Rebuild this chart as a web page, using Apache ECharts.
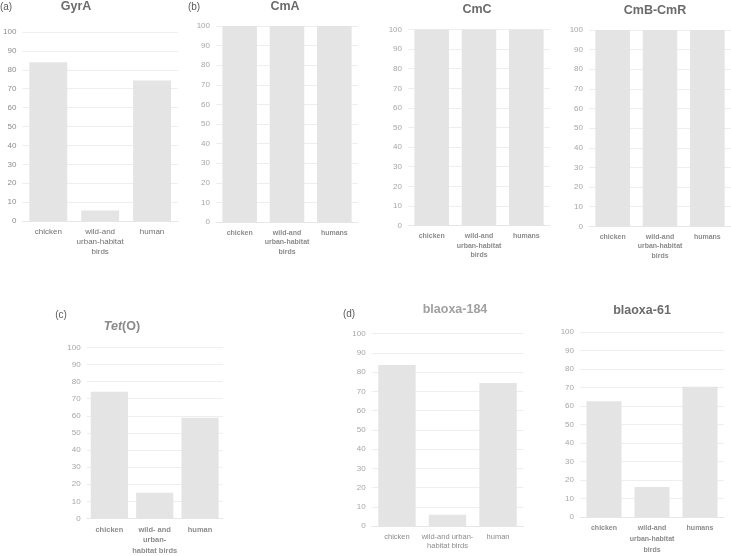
<!DOCTYPE html>
<html>
<head>
<meta charset="utf-8">
<script src="https://cdn.jsdelivr.net/npm/echarts@6/dist/echarts.min.js"></script>
<style>html,body{margin:0;padding:0;background:#fff}#c{width:731px;height:556px}</style>
</head>
<body>
<div id="c"></div>
<script>
// ---- data ----
const yTicks = [0, 10, 20, 30, 40, 50, 60, 70, 80, 90, 100];
const catsGyrA = ['chicken', 'wild-and\nurban-habitat\nbirds', 'human'];
const catsCm = ['chicken', 'wild-and\nurban-habitat\nbirds', 'humans'];
const catsTet = ['chicken', 'wild- and\nurban-\nhabitat birds', 'human'];
const cats184 = ['chicken', 'wild-and urban-\nhabitat birds', 'human'];
const cats61 = ['chicken', 'wild-and\nurban-habitat\nbirds', 'humans'];
const valGyrA = [84, 5.5, 74.4];
const valCmA = [100, 100, 100];
const valCmC = [100, 100, 100];
const valCmBCmR = [100, 100, 100];
const valTetO = [74.1, 15.1, 58.8];
const val184 = [83.7, 5.9, 74.4];
const val61 = [62.6, 16.2, 70.4];

// ---- layout ----
const FONT = '"Liberation Sans", Arial, sans-serif';
const panels = [
  {cats: catsGyrA, vals: valGyrA, left: 21, top: 32, width: 157, height: 189, gap: '27%', labStyle: {color: '#6f6f6f', fontSize: 8, fontWeight: 'normal', lineHeight: 10}, tickColor: '#8c8c8c'},
  {cats: catsCm, vals: valCmA, left: 216, top: 26, width: 142, height: 196, gap: '27%', labStyle: {color: '#8c8c8c', fontSize: 7, fontWeight: 'bold', lineHeight: 9.5}, tickColor: '#a6a6a6'},
  {cats: catsCm, vals: valCmC, left: 408, top: 29.5, width: 142, height: 196, gap: '27%', labStyle: {color: '#8c8c8c', fontSize: 7, fontWeight: 'bold', lineHeight: 9.5}, tickColor: '#a6a6a6'},
  {cats: catsCm, vals: valCmBCmR, left: 589, top: 30, width: 142, height: 196.3, gap: '27%', labStyle: {color: '#8c8c8c', fontSize: 7, fontWeight: 'bold', lineHeight: 9.5}, tickColor: '#a6a6a6'},
  {cats: catsTet, vals: valTetO, left: 86.7, top: 347.3, width: 136, height: 172.4, gap: '18%', labStyle: {color: '#8c8c8c', fontSize: 7.5, fontWeight: 'bold', lineHeight: 10.5}, tickColor: '#a6a6a6'},
  {cats: cats184, vals: val184, left: 371.7, top: 333.7, width: 151.6, height: 192.3, gap: '26%', labStyle: {color: '#8c8c8c', fontSize: 7.5, fontWeight: 'normal', lineHeight: 9.5}, tickColor: '#a6a6a6'},
  {cats: cats61, vals: val61, left: 580, top: 332, width: 144, height: 196, gap: '27%', labStyle: {color: '#8c8c8c', fontSize: 7, fontWeight: 'bold', lineHeight: 11}, tickColor: '#a6a6a6'}
];

const grid = [], xAxis = [], yAxis = [], series = [];
panels.forEach((p, i) => {
  grid.push({left: p.left, top: p.top, width: p.width, height: p.height, containLabel: false});
  xAxis.push({
    type: 'category', gridIndex: i, data: p.cats,
    axisLine: {show: true, lineStyle: {color: '#e6e6e6', width: 1}},
    axisTick: {show: false},
    axisLabel: Object.assign({interval: 0, margin: 6, fontFamily: FONT, verticalAlign: 'top'}, p.labStyle)
  });
  yAxis.push({
    type: 'value', gridIndex: i, min: yTicks[0], max: yTicks[yTicks.length - 1], interval: yTicks[1] - yTicks[0],
    axisLine: {show: false}, axisTick: {show: false},
    splitLine: {show: true, lineStyle: {color: '#eeeeee', width: 1}},
    axisLabel: {color: p.tickColor, fontSize: 8, fontFamily: FONT, margin: 6}
  });
  series.push({
    type: 'bar', xAxisIndex: i, yAxisIndex: i, data: p.vals,
    barCategoryGap: p.gap, itemStyle: {color: '#e4e4e4'}, silent: true
  });
});

const txt = (x, y, text, style) => ({
  type: 'text', left: null, x: x, y: y, silent: true,
  style: Object.assign({text: text, fontFamily: FONT, textAlign: 'center', textVerticalAlign: 'middle'}, style)
});

const graphic = [
  txt(6, 7, '(a)', {fill: '#595959', fontSize: 10}),
  txt(194, 7, '(b)', {fill: '#595959', fontSize: 10}),
  txt(61, 315, '(c)', {fill: '#595959', fontSize: 10}),
  txt(349, 314, '(d)', {fill: '#595959', fontSize: 10}),
  txt(76, 7, 'GyrA', {fill: '#6b6b6b', fontSize: 12.5, fontWeight: 'bold'}),
  txt(285, 7, 'CmA', {fill: '#6b6b6b', fontSize: 12.5, fontWeight: 'bold'}),
  txt(477, 10, 'CmC', {fill: '#6b6b6b', fontSize: 12.5, fontWeight: 'bold'}),
  txt(655, 11, 'CmB-CmR', {fill: '#6b6b6b', fontSize: 12.5, fontWeight: 'bold'}),
  {
    type: 'text', x: 122, y: 327, silent: true,
    style: {
      text: '{i|Tet}{n|(O)}', textAlign: 'center', textVerticalAlign: 'middle',
      rich: {
        i: {fontFamily: FONT, fontSize: 12.5, fontWeight: 'bold', fontStyle: 'italic', fill: '#8a8a8a', color: '#8a8a8a'},
        n: {fontFamily: FONT, fontSize: 12.5, fontWeight: 'bold', fill: '#8a8a8a', color: '#8a8a8a'}
      }
    }
  },
  txt(455, 310, 'blaoxa-184', {fill: '#a0a0a0', fontSize: 12.5, fontWeight: 'bold'}),
  txt(642, 311, 'blaoxa-61', {fill: '#6b6b6b', fontSize: 12.5, fontWeight: 'bold'})
];

const chart = echarts.init(document.getElementById('c'), null, {renderer: 'canvas'});
chart.setOption({
  animation: false,
  backgroundColor: '#ffffff',
  grid: grid, xAxis: xAxis, yAxis: yAxis, series: series,
  graphic: graphic
});
</script>
</body>
</html>
